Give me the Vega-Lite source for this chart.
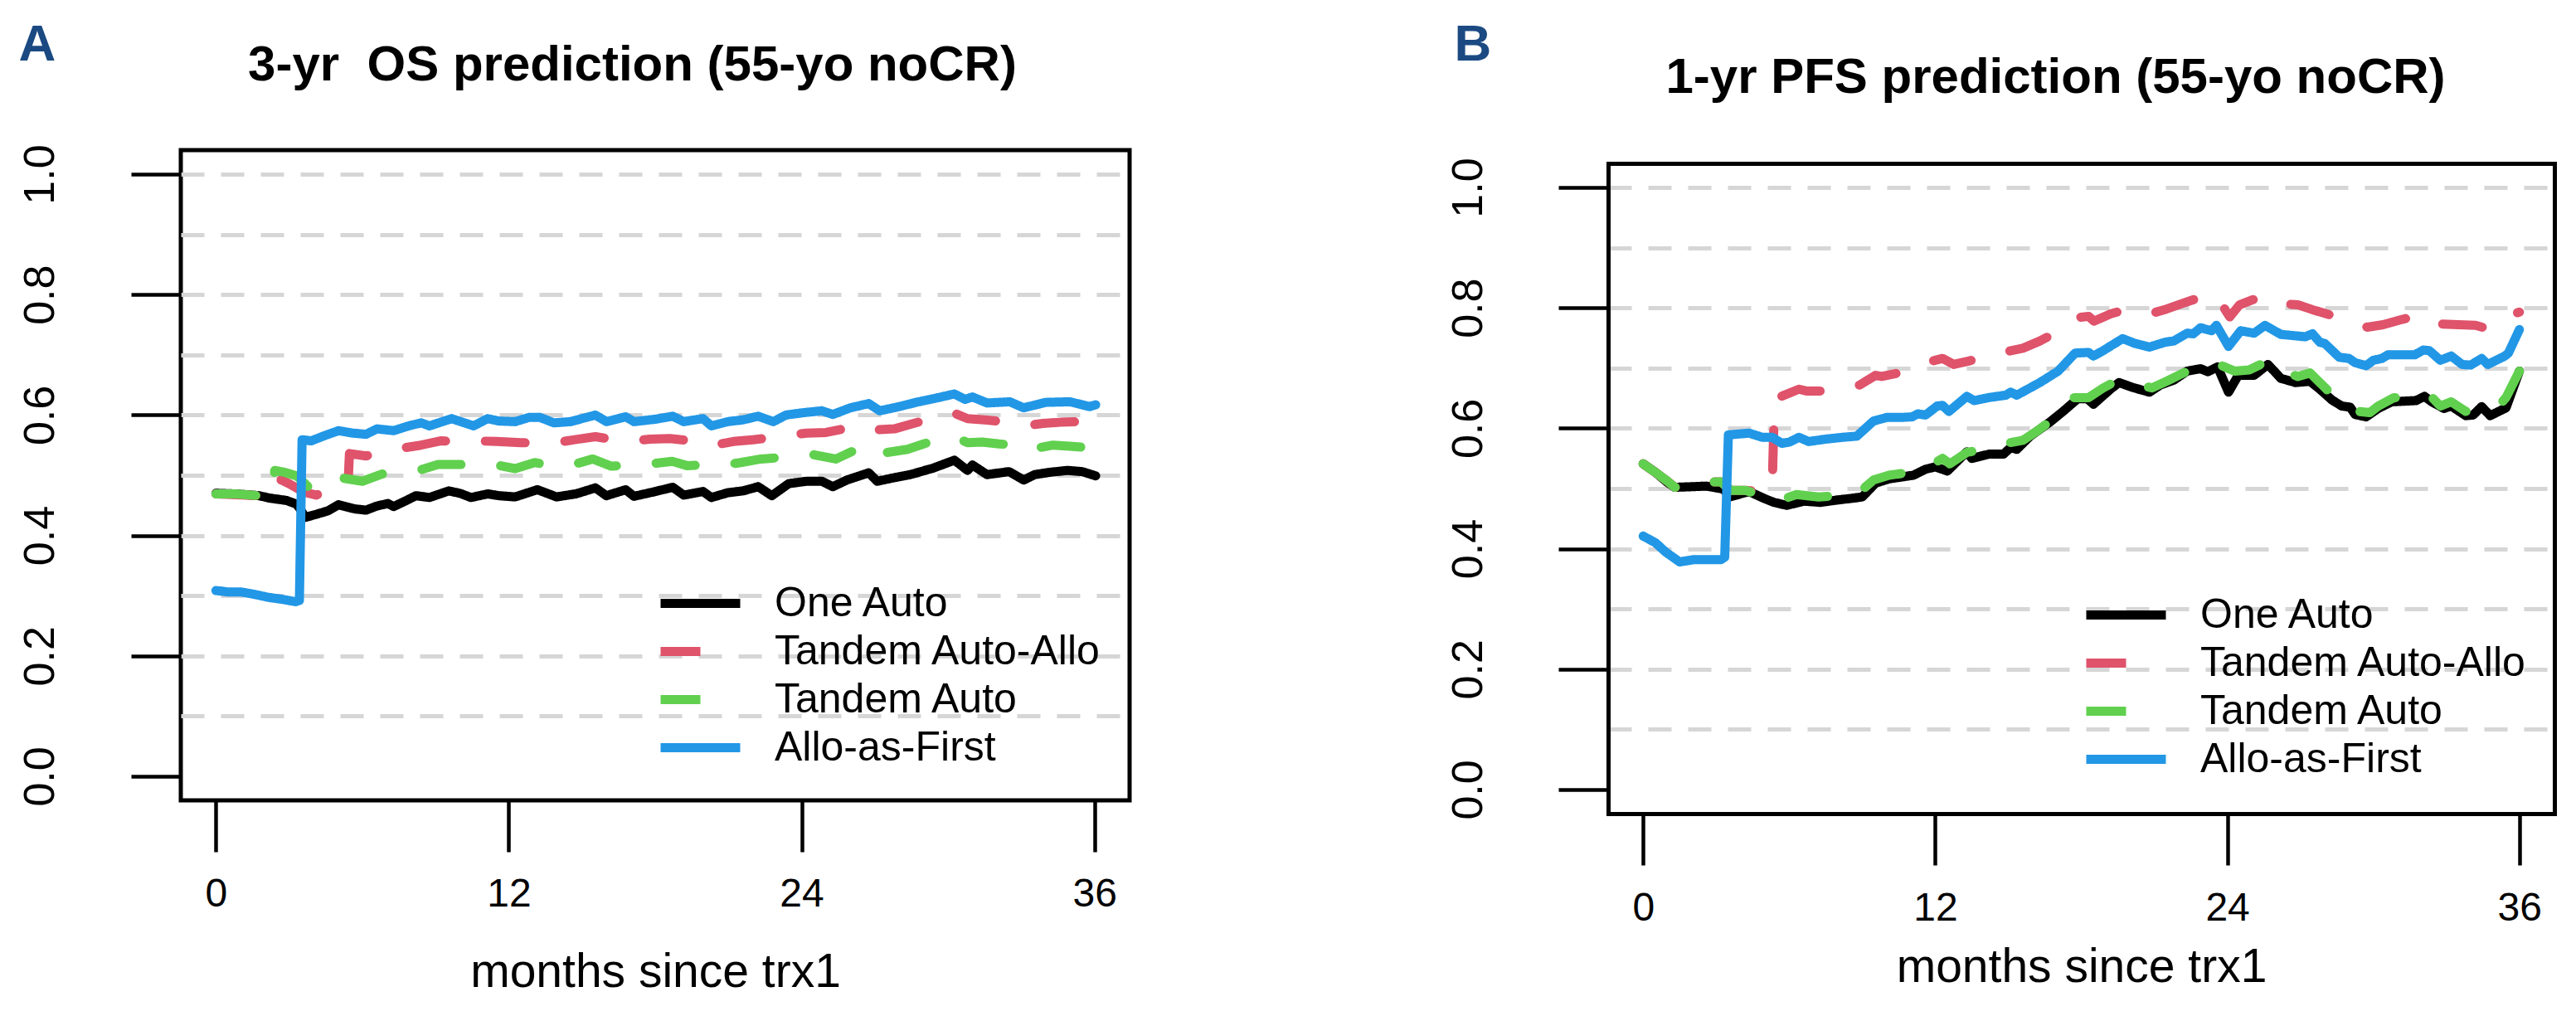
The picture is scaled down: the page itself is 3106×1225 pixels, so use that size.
{
"$schema": "https://vega.github.io/schema/vega-lite/v6.json",
"background": "white",
"padding": {"left": 19, "top": 19, "right": 5, "bottom": 5},
"spacing": 378,
"config": {
  "font": "Liberation Sans",
  "view": {"stroke": null},
  "axis": {"labelFont": "Liberation Sans", "titleFont": "Liberation Sans", "labelColor": "black", "titleColor": "black", "tickColor": "black", "domainColor": "black", "titleFontWeight": "normal"},
  "legend": {"labelFont": "Liberation Sans", "labelColor": "black"},
  "line": {"strokeCap": "round", "strokeJoin": "round"}
},
"datasets": {
"os": [
{"arm":"One Auto","month":0,"prob":0.470},{"arm":"One Auto","month":0.8,"prob":0.469},{"arm":"One Auto","month":1.77,"prob":0.466},{"arm":"One Auto","month":2.2,"prob":0.462},{"arm":"One Auto","month":2.9,"prob":0.458},{"arm":"One Auto","month":3.3,"prob":0.452},{"arm":"One Auto","month":3.45,"prob":0.444},{"arm":"One Auto","month":3.66,"prob":0.430},{"arm":"One Auto","month":4.1,"prob":0.435},{"arm":"One Auto","month":4.6,"prob":0.441},{"arm":"One Auto","month":5.02,"prob":0.451},{"arm":"One Auto","month":5.7,"prob":0.444},{"arm":"One Auto","month":6.15,"prob":0.442},{"arm":"One Auto","month":6.6,"prob":0.449},{"arm":"One Auto","month":7.05,"prob":0.453},{"arm":"One Auto","month":7.28,"prob":0.448},{"arm":"One Auto","month":7.8,"prob":0.458},{"arm":"One Auto","month":8.19,"prob":0.466},{"arm":"One Auto","month":8.75,"prob":0.463},{"arm":"One Auto","month":9.54,"prob":0.474},{"arm":"One Auto","month":10.0,"prob":0.470},{"arm":"One Auto","month":10.45,"prob":0.463},{"arm":"One Auto","month":11.13,"prob":0.469},{"arm":"One Auto","month":11.6,"prob":0.466},{"arm":"One Auto","month":12.26,"prob":0.464},{"arm":"One Auto","month":13.17,"prob":0.476},{"arm":"One Auto","month":13.96,"prob":0.464},{"arm":"One Auto","month":14.75,"prob":0.469},{"arm":"One Auto","month":15.55,"prob":0.479},{"arm":"One Auto","month":16.0,"prob":0.466},{"arm":"One Auto","month":16.79,"prob":0.476},{"arm":"One Auto","month":17.13,"prob":0.465},{"arm":"One Auto","month":17.9,"prob":0.472},{"arm":"One Auto","month":18.72,"prob":0.480},{"arm":"One Auto","month":19.17,"prob":0.467},{"arm":"One Auto","month":19.96,"prob":0.473},{"arm":"One Auto","month":20.3,"prob":0.463},{"arm":"One Auto","month":20.98,"prob":0.471},{"arm":"One Auto","month":21.6,"prob":0.474},{"arm":"One Auto","month":22.22,"prob":0.481},{"arm":"One Auto","month":22.78,"prob":0.466},{"arm":"One Auto","month":23.47,"prob":0.486},{"arm":"One Auto","month":24.2,"prob":0.490},{"arm":"One Auto","month":24.83,"prob":0.490},{"arm":"One Auto","month":25.28,"prob":0.481},{"arm":"One Auto","month":25.85,"prob":0.492},{"arm":"One Auto","month":26.75,"prob":0.504},{"arm":"One Auto","month":27.1,"prob":0.490},{"arm":"One Auto","month":27.8,"prob":0.496},{"arm":"One Auto","month":28.45,"prob":0.501},{"arm":"One Auto","month":29.4,"prob":0.512},{"arm":"One Auto","month":30.26,"prob":0.525},{"arm":"One Auto","month":30.8,"prob":0.508},{"arm":"One Auto","month":31.0,"prob":0.517},{"arm":"One Auto","month":31.6,"prob":0.501},{"arm":"One Auto","month":32.5,"prob":0.506},{"arm":"One Auto","month":33.1,"prob":0.492},{"arm":"One Auto","month":33.55,"prob":0.501},{"arm":"One Auto","month":34.2,"prob":0.505},{"arm":"One Auto","month":34.9,"prob":0.508},{"arm":"One Auto","month":35.5,"prob":0.506},{"arm":"One Auto","month":36.05,"prob":0.499},
{"arm":"Tandem Auto-Allo","month":0,"prob":0.469},{"arm":"Tandem Auto-Allo","month":1.77,"prob":0.466},{"arm":"Tandem Auto-Allo","month":2.3,"prob":0.466},{"arm":"Tandem Auto-Allo","month":2.45,"prob":0.495},{"arm":"Tandem Auto-Allo","month":2.69,"prob":0.492},{"arm":"Tandem Auto-Allo","month":3.0,"prob":0.486},{"arm":"Tandem Auto-Allo","month":3.43,"prob":0.476},{"arm":"Tandem Auto-Allo","month":3.8,"prob":0.470},{"arm":"Tandem Auto-Allo","month":4.1,"prob":0.467},{"arm":"Tandem Auto-Allo","month":5.0,"prob":0.480},{"arm":"Tandem Auto-Allo","month":5.42,"prob":0.490},{"arm":"Tandem Auto-Allo","month":5.47,"prob":0.536},{"arm":"Tandem Auto-Allo","month":6.15,"prob":0.532},{"arm":"Tandem Auto-Allo","month":6.9,"prob":0.540},{"arm":"Tandem Auto-Allo","month":7.62,"prob":0.545},{"arm":"Tandem Auto-Allo","month":8.4,"prob":0.550},{"arm":"Tandem Auto-Allo","month":9.2,"prob":0.557},{"arm":"Tandem Auto-Allo","month":10.0,"prob":0.556},{"arm":"Tandem Auto-Allo","month":10.79,"prob":0.557},{"arm":"Tandem Auto-Allo","month":11.5,"prob":0.556},{"arm":"Tandem Auto-Allo","month":12.5,"prob":0.554},{"arm":"Tandem Auto-Allo","month":13.9,"prob":0.554},{"arm":"Tandem Auto-Allo","month":14.7,"prob":0.559},{"arm":"Tandem Auto-Allo","month":15.55,"prob":0.564},{"arm":"Tandem Auto-Allo","month":16.3,"prob":0.559},{"arm":"Tandem Auto-Allo","month":17.0,"prob":0.557},{"arm":"Tandem Auto-Allo","month":17.8,"prob":0.560},{"arm":"Tandem Auto-Allo","month":18.6,"prob":0.561},{"arm":"Tandem Auto-Allo","month":19.3,"prob":0.558},{"arm":"Tandem Auto-Allo","month":20.07,"prob":0.557},{"arm":"Tandem Auto-Allo","month":20.4,"prob":0.550},{"arm":"Tandem Auto-Allo","month":21.2,"prob":0.556},{"arm":"Tandem Auto-Allo","month":22.0,"prob":0.559},{"arm":"Tandem Auto-Allo","month":22.7,"prob":0.562},{"arm":"Tandem Auto-Allo","month":23.35,"prob":0.566},{"arm":"Tandem Auto-Allo","month":24.2,"prob":0.570},{"arm":"Tandem Auto-Allo","month":25.0,"prob":0.571},{"arm":"Tandem Auto-Allo","month":25.6,"prob":0.576},{"arm":"Tandem Auto-Allo","month":26.2,"prob":0.582},{"arm":"Tandem Auto-Allo","month":26.9,"prob":0.575},{"arm":"Tandem Auto-Allo","month":27.8,"prob":0.577},{"arm":"Tandem Auto-Allo","month":28.5,"prob":0.585},{"arm":"Tandem Auto-Allo","month":29.3,"prob":0.594},{"arm":"Tandem Auto-Allo","month":30.26,"prob":0.603},{"arm":"Tandem Auto-Allo","month":30.8,"prob":0.594},{"arm":"Tandem Auto-Allo","month":31.5,"prob":0.592},{"arm":"Tandem Auto-Allo","month":32.3,"prob":0.589},{"arm":"Tandem Auto-Allo","month":33.1,"prob":0.582},{"arm":"Tandem Auto-Allo","month":33.9,"prob":0.586},{"arm":"Tandem Auto-Allo","month":34.6,"prob":0.588},{"arm":"Tandem Auto-Allo","month":35.3,"prob":0.589},{"arm":"Tandem Auto-Allo","month":36.05,"prob":0.584},
{"arm":"Tandem Auto","month":0,"prob":0.469},{"arm":"Tandem Auto","month":0.8,"prob":0.469},{"arm":"Tandem Auto","month":1.77,"prob":0.466},{"arm":"Tandem Auto","month":2.3,"prob":0.466},{"arm":"Tandem Auto","month":2.41,"prob":0.508},{"arm":"Tandem Auto","month":2.8,"prob":0.505},{"arm":"Tandem Auto","month":3.3,"prob":0.499},{"arm":"Tandem Auto","month":3.6,"prob":0.488},{"arm":"Tandem Auto","month":3.9,"prob":0.476},{"arm":"Tandem Auto","month":4.4,"prob":0.482},{"arm":"Tandem Auto","month":5.24,"prob":0.495},{"arm":"Tandem Auto","month":6.0,"prob":0.490},{"arm":"Tandem Auto","month":6.8,"prob":0.502},{"arm":"Tandem Auto","month":7.5,"prob":0.505},{"arm":"Tandem Auto","month":8.3,"prob":0.508},{"arm":"Tandem Auto","month":9.1,"prob":0.518},{"arm":"Tandem Auto","month":10.0,"prob":0.518},{"arm":"Tandem Auto","month":10.7,"prob":0.516},{"arm":"Tandem Auto","month":11.5,"prob":0.517},{"arm":"Tandem Auto","month":12.26,"prob":0.511},{"arm":"Tandem Auto","month":13.06,"prob":0.521},{"arm":"Tandem Auto","month":13.8,"prob":0.516},{"arm":"Tandem Auto","month":14.5,"prob":0.516},{"arm":"Tandem Auto","month":15.44,"prob":0.527},{"arm":"Tandem Auto","month":16.2,"prob":0.515},{"arm":"Tandem Auto","month":17.0,"prob":0.517},{"arm":"Tandem Auto","month":17.6,"prob":0.518},{"arm":"Tandem Auto","month":18.7,"prob":0.523},{"arm":"Tandem Auto","month":19.3,"prob":0.516},{"arm":"Tandem Auto","month":20.0,"prob":0.517},{"arm":"Tandem Auto","month":20.6,"prob":0.516},{"arm":"Tandem Auto","month":21.5,"prob":0.521},{"arm":"Tandem Auto","month":22.33,"prob":0.527},{"arm":"Tandem Auto","month":23.0,"prob":0.529},{"arm":"Tandem Auto","month":23.7,"prob":0.531},{"arm":"Tandem Auto","month":24.5,"prob":0.534},{"arm":"Tandem Auto","month":25.4,"prob":0.527},{"arm":"Tandem Auto","month":26.1,"prob":0.540},{"arm":"Tandem Auto","month":26.75,"prob":0.550},{"arm":"Tandem Auto","month":27.2,"prob":0.536},{"arm":"Tandem Auto","month":28.34,"prob":0.543},{"arm":"Tandem Auto","month":29.0,"prob":0.552},{"arm":"Tandem Auto","month":29.7,"prob":0.561},{"arm":"Tandem Auto","month":30.26,"prob":0.564},{"arm":"Tandem Auto","month":30.8,"prob":0.554},{"arm":"Tandem Auto","month":31.4,"prob":0.555},{"arm":"Tandem Auto","month":32.1,"prob":0.552},{"arm":"Tandem Auto","month":32.75,"prob":0.550},{"arm":"Tandem Auto","month":33.1,"prob":0.541},{"arm":"Tandem Auto","month":34.3,"prob":0.550},{"arm":"Tandem Auto","month":35.1,"prob":0.548},{"arm":"Tandem Auto","month":35.95,"prob":0.545},
{"arm":"Allo-as-First","month":0,"prob":0.3085},{"arm":"Allo-as-First","month":0.5,"prob":0.306},{"arm":"Allo-as-First","month":1.05,"prob":0.306},{"arm":"Allo-as-First","month":1.6,"prob":0.302},{"arm":"Allo-as-First","month":2.17,"prob":0.297},{"arm":"Allo-as-First","month":2.7,"prob":0.294},{"arm":"Allo-as-First","month":3.26,"prob":0.290},{"arm":"Allo-as-First","month":3.42,"prob":0.292},{"arm":"Allo-as-First","month":3.53,"prob":0.559},{"arm":"Allo-as-First","month":3.9,"prob":0.557},{"arm":"Allo-as-First","month":4.4,"prob":0.565},{"arm":"Allo-as-First","month":5.02,"prob":0.574},{"arm":"Allo-as-First","month":5.6,"prob":0.570},{"arm":"Allo-as-First","month":6.15,"prob":0.568},{"arm":"Allo-as-First","month":6.6,"prob":0.577},{"arm":"Allo-as-First","month":7.28,"prob":0.574},{"arm":"Allo-as-First","month":7.9,"prob":0.582},{"arm":"Allo-as-First","month":8.41,"prob":0.587},{"arm":"Allo-as-First","month":8.75,"prob":0.582},{"arm":"Allo-as-First","month":9.66,"prob":0.594},{"arm":"Allo-as-First","month":10.56,"prob":0.582},{"arm":"Allo-as-First","month":11.13,"prob":0.594},{"arm":"Allo-as-First","month":11.6,"prob":0.590},{"arm":"Allo-as-First","month":12.26,"prob":0.589},{"arm":"Allo-as-First","month":12.83,"prob":0.596},{"arm":"Allo-as-First","month":13.28,"prob":0.596},{"arm":"Allo-as-First","month":13.85,"prob":0.587},{"arm":"Allo-as-First","month":14.53,"prob":0.589},{"arm":"Allo-as-First","month":15.55,"prob":0.600},{"arm":"Allo-as-First","month":16.0,"prob":0.589},{"arm":"Allo-as-First","month":16.79,"prob":0.597},{"arm":"Allo-as-First","month":17.13,"prob":0.589},{"arm":"Allo-as-First","month":18.0,"prob":0.593},{"arm":"Allo-as-First","month":18.72,"prob":0.598},{"arm":"Allo-as-First","month":19.17,"prob":0.589},{"arm":"Allo-as-First","month":19.96,"prob":0.594},{"arm":"Allo-as-First","month":20.3,"prob":0.582},{"arm":"Allo-as-First","month":20.98,"prob":0.589},{"arm":"Allo-as-First","month":21.6,"prob":0.592},{"arm":"Allo-as-First","month":22.22,"prob":0.598},{"arm":"Allo-as-First","month":22.84,"prob":0.589},{"arm":"Allo-as-First","month":23.36,"prob":0.600},{"arm":"Allo-as-First","month":24.1,"prob":0.604},{"arm":"Allo-as-First","month":24.83,"prob":0.607},{"arm":"Allo-as-First","month":25.28,"prob":0.601},{"arm":"Allo-as-First","month":26.0,"prob":0.612},{"arm":"Allo-as-First","month":26.75,"prob":0.619},{"arm":"Allo-as-First","month":27.2,"prob":0.607},{"arm":"Allo-as-First","month":28.0,"prob":0.614},{"arm":"Allo-as-First","month":28.68,"prob":0.621},{"arm":"Allo-as-First","month":29.5,"prob":0.628},{"arm":"Allo-as-First","month":30.26,"prob":0.635},{"arm":"Allo-as-First","month":30.7,"prob":0.626},{"arm":"Allo-as-First","month":31.0,"prob":0.630},{"arm":"Allo-as-First","month":31.6,"prob":0.620},{"arm":"Allo-as-First","month":32.53,"prob":0.622},{"arm":"Allo-as-First","month":33.1,"prob":0.612},{"arm":"Allo-as-First","month":34.0,"prob":0.621},{"arm":"Allo-as-First","month":35.0,"prob":0.622},{"arm":"Allo-as-First","month":35.8,"prob":0.614},{"arm":"Allo-as-First","month":36.05,"prob":0.617}
],
"pfs": [
{"arm":"One Auto","month":0,"prob":0.541},{"arm":"One Auto","month":0.5,"prob":0.527},{"arm":"One Auto","month":1.0,"prob":0.510},{"arm":"One Auto","month":1.3,"prob":0.502},{"arm":"One Auto","month":2.0,"prob":0.503},{"arm":"One Auto","month":2.6,"prob":0.504},{"arm":"One Auto","month":3.3,"prob":0.499},{"arm":"One Auto","month":3.55,"prob":0.486},{"arm":"One Auto","month":4.35,"prob":0.495},{"arm":"One Auto","month":5.0,"prob":0.483},{"arm":"One Auto","month":5.37,"prob":0.477},{"arm":"One Auto","month":5.9,"prob":0.472},{"arm":"One Auto","month":6.6,"prob":0.479},{"arm":"One Auto","month":7.28,"prob":0.477},{"arm":"One Auto","month":8.0,"prob":0.481},{"arm":"One Auto","month":8.64,"prob":0.484},{"arm":"One Auto","month":9.0,"prob":0.486},{"arm":"One Auto","month":9.55,"prob":0.509},{"arm":"One Auto","month":10.1,"prob":0.516},{"arm":"One Auto","month":11.1,"prob":0.522},{"arm":"One Auto","month":11.6,"prob":0.532},{"arm":"One Auto","month":12.0,"prob":0.536},{"arm":"One Auto","month":12.5,"prob":0.529},{"arm":"One Auto","month":13.3,"prob":0.561},{"arm":"One Auto","month":13.5,"prob":0.550},{"arm":"One Auto","month":14.2,"prob":0.557},{"arm":"One Auto","month":14.8,"prob":0.557},{"arm":"One Auto","month":15.1,"prob":0.568},{"arm":"One Auto","month":15.35,"prob":0.565},{"arm":"One Auto","month":15.9,"prob":0.587},{"arm":"One Auto","month":16.7,"prob":0.610},{"arm":"One Auto","month":17.25,"prob":0.628},{"arm":"One Auto","month":17.85,"prob":0.649},{"arm":"One Auto","month":18.25,"prob":0.649},{"arm":"One Auto","month":18.5,"prob":0.640},{"arm":"One Auto","month":19.2,"prob":0.665},{"arm":"One Auto","month":19.55,"prob":0.676},{"arm":"One Auto","month":20.1,"prob":0.668},{"arm":"One Auto","month":20.8,"prob":0.660},{"arm":"One Auto","month":21.25,"prob":0.672},{"arm":"One Auto","month":21.8,"prob":0.680},{"arm":"One Auto","month":22.35,"prob":0.695},{"arm":"One Auto","month":22.9,"prob":0.699},{"arm":"One Auto","month":23.2,"prob":0.694},{"arm":"One Auto","month":23.6,"prob":0.702},{"arm":"One Auto","month":24.05,"prob":0.660},{"arm":"One Auto","month":24.45,"prob":0.688},{"arm":"One Auto","month":25.1,"prob":0.688},{"arm":"One Auto","month":25.67,"prob":0.706},{"arm":"One Auto","month":26.2,"prob":0.683},{"arm":"One Auto","month":26.8,"prob":0.676},{"arm":"One Auto","month":27.4,"prob":0.678},{"arm":"One Auto","month":27.8,"prob":0.665},{"arm":"One Auto","month":28.3,"prob":0.647},{"arm":"One Auto","month":28.7,"prob":0.637},{"arm":"One Auto","month":29.05,"prob":0.635},{"arm":"One Auto","month":29.25,"prob":0.623},{"arm":"One Auto","month":29.7,"prob":0.619},{"arm":"One Auto","month":30.2,"prob":0.633},{"arm":"One Auto","month":30.75,"prob":0.644},{"arm":"One Auto","month":31.75,"prob":0.646},{"arm":"One Auto","month":32.1,"prob":0.653},{"arm":"One Auto","month":32.4,"prob":0.644},{"arm":"One Auto","month":32.9,"prob":0.633},{"arm":"One Auto","month":33.2,"prob":0.637},{"arm":"One Auto","month":33.8,"prob":0.621},{"arm":"One Auto","month":34.1,"prob":0.622},{"arm":"One Auto","month":34.45,"prob":0.636},{"arm":"One Auto","month":34.8,"prob":0.621},{"arm":"One Auto","month":35.45,"prob":0.634},{"arm":"One Auto","month":36.0,"prob":0.695},
{"arm":"Tandem Auto-Allo","month":0,"prob":0.541},{"arm":"Tandem Auto-Allo","month":0.5,"prob":0.527},{"arm":"Tandem Auto-Allo","month":1.0,"prob":0.512},{"arm":"Tandem Auto-Allo","month":1.3,"prob":0.502},{"arm":"Tandem Auto-Allo","month":2.0,"prob":0.503},{"arm":"Tandem Auto-Allo","month":2.65,"prob":0.511},{"arm":"Tandem Auto-Allo","month":3.2,"prob":0.511},{"arm":"Tandem Auto-Allo","month":3.6,"prob":0.497},{"arm":"Tandem Auto-Allo","month":4.2,"prob":0.497},{"arm":"Tandem Auto-Allo","month":4.9,"prob":0.495},{"arm":"Tandem Auto-Allo","month":5.3,"prob":0.502},{"arm":"Tandem Auto-Allo","month":5.4,"prob":0.651},{"arm":"Tandem Auto-Allo","month":5.55,"prob":0.651},{"arm":"Tandem Auto-Allo","month":6.4,"prob":0.665},{"arm":"Tandem Auto-Allo","month":6.7,"prob":0.662},{"arm":"Tandem Auto-Allo","month":7.4,"prob":0.662},{"arm":"Tandem Auto-Allo","month":8.2,"prob":0.665},{"arm":"Tandem Auto-Allo","month":8.9,"prob":0.672},{"arm":"Tandem Auto-Allo","month":9.55,"prob":0.688},{"arm":"Tandem Auto-Allo","month":9.8,"prob":0.686},{"arm":"Tandem Auto-Allo","month":10.5,"prob":0.692},{"arm":"Tandem Auto-Allo","month":11.1,"prob":0.699},{"arm":"Tandem Auto-Allo","month":11.8,"prob":0.711},{"arm":"Tandem Auto-Allo","month":12.3,"prob":0.716},{"arm":"Tandem Auto-Allo","month":12.76,"prob":0.706},{"arm":"Tandem Auto-Allo","month":13.4,"prob":0.712},{"arm":"Tandem Auto-Allo","month":14.1,"prob":0.720},{"arm":"Tandem Auto-Allo","month":14.9,"prob":0.727},{"arm":"Tandem Auto-Allo","month":15.6,"prob":0.733},{"arm":"Tandem Auto-Allo","month":16.3,"prob":0.745},{"arm":"Tandem Auto-Allo","month":17.05,"prob":0.761},{"arm":"Tandem Auto-Allo","month":17.85,"prob":0.784},{"arm":"Tandem Auto-Allo","month":18.3,"prob":0.786},{"arm":"Tandem Auto-Allo","month":18.52,"prob":0.778},{"arm":"Tandem Auto-Allo","month":19.2,"prob":0.790},{"arm":"Tandem Auto-Allo","month":19.9,"prob":0.798},{"arm":"Tandem Auto-Allo","month":20.9,"prob":0.791},{"arm":"Tandem Auto-Allo","month":21.5,"prob":0.798},{"arm":"Tandem Auto-Allo","month":22.2,"prob":0.808},{"arm":"Tandem Auto-Allo","month":22.85,"prob":0.817},{"arm":"Tandem Auto-Allo","month":23.5,"prob":0.823},{"arm":"Tandem Auto-Allo","month":24.1,"prob":0.785},{"arm":"Tandem Auto-Allo","month":24.5,"prob":0.805},{"arm":"Tandem Auto-Allo","month":25.0,"prob":0.813},{"arm":"Tandem Auto-Allo","month":25.33,"prob":0.817},{"arm":"Tandem Auto-Allo","month":25.67,"prob":0.819},{"arm":"Tandem Auto-Allo","month":26.2,"prob":0.807},{"arm":"Tandem Auto-Allo","month":26.9,"prob":0.805},{"arm":"Tandem Auto-Allo","month":27.5,"prob":0.797},{"arm":"Tandem Auto-Allo","month":28.17,"prob":0.789},{"arm":"Tandem Auto-Allo","month":28.85,"prob":0.778},{"arm":"Tandem Auto-Allo","month":29.75,"prob":0.768},{"arm":"Tandem Auto-Allo","month":30.4,"prob":0.772},{"arm":"Tandem Auto-Allo","month":31.1,"prob":0.780},{"arm":"Tandem Auto-Allo","month":32.0,"prob":0.789},{"arm":"Tandem Auto-Allo","month":32.8,"prob":0.773},{"arm":"Tandem Auto-Allo","month":33.5,"prob":0.772},{"arm":"Tandem Auto-Allo","month":34.2,"prob":0.771},{"arm":"Tandem Auto-Allo","month":34.65,"prob":0.766},{"arm":"Tandem Auto-Allo","month":35.3,"prob":0.775},{"arm":"Tandem Auto-Allo","month":35.7,"prob":0.789},{"arm":"Tandem Auto-Allo","month":36.0,"prob":0.793},
{"arm":"Tandem Auto","month":0,"prob":0.541},{"arm":"Tandem Auto","month":0.5,"prob":0.527},{"arm":"Tandem Auto","month":1.0,"prob":0.512},{"arm":"Tandem Auto","month":1.3,"prob":0.502},{"arm":"Tandem Auto","month":2.0,"prob":0.503},{"arm":"Tandem Auto","month":2.65,"prob":0.511},{"arm":"Tandem Auto","month":3.2,"prob":0.511},{"arm":"Tandem Auto","month":3.6,"prob":0.497},{"arm":"Tandem Auto","month":4.2,"prob":0.497},{"arm":"Tandem Auto","month":4.9,"prob":0.488},{"arm":"Tandem Auto","month":5.5,"prob":0.479},{"arm":"Tandem Auto","month":6.3,"prob":0.490},{"arm":"Tandem Auto","month":7.2,"prob":0.486},{"arm":"Tandem Auto","month":8.0,"prob":0.488},{"arm":"Tandem Auto","month":8.8,"prob":0.491},{"arm":"Tandem Auto","month":9.46,"prob":0.514},{"arm":"Tandem Auto","month":10.1,"prob":0.522},{"arm":"Tandem Auto","month":10.8,"prob":0.526},{"arm":"Tandem Auto","month":11.45,"prob":0.530},{"arm":"Tandem Auto","month":12.3,"prob":0.550},{"arm":"Tandem Auto","month":12.6,"prob":0.541},{"arm":"Tandem Auto","month":13.3,"prob":0.560},{"arm":"Tandem Auto","month":14.1,"prob":0.566},{"arm":"Tandem Auto","month":14.9,"prob":0.575},{"arm":"Tandem Auto","month":15.6,"prob":0.580},{"arm":"Tandem Auto","month":16.2,"prob":0.596},{"arm":"Tandem Auto","month":16.8,"prob":0.614},{"arm":"Tandem Auto","month":17.25,"prob":0.633},{"arm":"Tandem Auto","month":17.7,"prob":0.651},{"arm":"Tandem Auto","month":18.3,"prob":0.651},{"arm":"Tandem Auto","month":18.9,"prob":0.667},{"arm":"Tandem Auto","month":19.45,"prob":0.679},{"arm":"Tandem Auto","month":20.25,"prob":0.674},{"arm":"Tandem Auto","month":20.9,"prob":0.667},{"arm":"Tandem Auto","month":21.5,"prob":0.678},{"arm":"Tandem Auto","month":22.2,"prob":0.692},{"arm":"Tandem Auto","month":22.9,"prob":0.703},{"arm":"Tandem Auto","month":23.55,"prob":0.708},{"arm":"Tandem Auto","month":24.0,"prob":0.700},{"arm":"Tandem Auto","month":24.3,"prob":0.695},{"arm":"Tandem Auto","month":24.9,"prob":0.697},{"arm":"Tandem Auto","month":25.67,"prob":0.712},{"arm":"Tandem Auto","month":26.3,"prob":0.695},{"arm":"Tandem Auto","month":26.9,"prob":0.686},{"arm":"Tandem Auto","month":27.4,"prob":0.692},{"arm":"Tandem Auto","month":27.9,"prob":0.672},{"arm":"Tandem Auto","month":28.2,"prob":0.660},{"arm":"Tandem Auto","month":28.8,"prob":0.640},{"arm":"Tandem Auto","month":29.4,"prob":0.628},{"arm":"Tandem Auto","month":29.85,"prob":0.626},{"arm":"Tandem Auto","month":30.2,"prob":0.637},{"arm":"Tandem Auto","month":30.85,"prob":0.651},{"arm":"Tandem Auto","month":31.6,"prob":0.650},{"arm":"Tandem Auto","month":32.3,"prob":0.656},{"arm":"Tandem Auto","month":32.75,"prob":0.637},{"arm":"Tandem Auto","month":33.2,"prob":0.644},{"arm":"Tandem Auto","month":33.8,"prob":0.628},{"arm":"Tandem Auto","month":34.4,"prob":0.630},{"arm":"Tandem Auto","month":35.1,"prob":0.635},{"arm":"Tandem Auto","month":35.45,"prob":0.651},{"arm":"Tandem Auto","month":36.0,"prob":0.695},
{"arm":"Allo-as-First","month":0,"prob":0.421},{"arm":"Allo-as-First","month":0.5,"prob":0.410},{"arm":"Allo-as-First","month":0.94,"prob":0.394},{"arm":"Allo-as-First","month":1.5,"prob":0.378},{"arm":"Allo-as-First","month":2.1,"prob":0.382},{"arm":"Allo-as-First","month":2.7,"prob":0.382},{"arm":"Allo-as-First","month":3.2,"prob":0.382},{"arm":"Allo-as-First","month":3.35,"prob":0.386},{"arm":"Allo-as-First","month":3.5,"prob":0.589},{"arm":"Allo-as-First","month":4.35,"prob":0.592},{"arm":"Allo-as-First","month":4.9,"prob":0.585},{"arm":"Allo-as-First","month":5.3,"prob":0.585},{"arm":"Allo-as-First","month":5.7,"prob":0.575},{"arm":"Allo-as-First","month":6.0,"prob":0.577},{"arm":"Allo-as-First","month":6.4,"prob":0.585},{"arm":"Allo-as-First","month":6.8,"prob":0.578},{"arm":"Allo-as-First","month":7.5,"prob":0.582},{"arm":"Allo-as-First","month":8.2,"prob":0.585},{"arm":"Allo-as-First","month":8.78,"prob":0.587},{"arm":"Allo-as-First","month":9.46,"prob":0.612},{"arm":"Allo-as-First","month":10.0,"prob":0.618},{"arm":"Allo-as-First","month":10.6,"prob":0.618},{"arm":"Allo-as-First","month":11.05,"prob":0.619},{"arm":"Allo-as-First","month":11.28,"prob":0.624},{"arm":"Allo-as-First","month":11.6,"prob":0.622},{"arm":"Allo-as-First","month":12.08,"prob":0.637},{"arm":"Allo-as-First","month":12.3,"prob":0.638},{"arm":"Allo-as-First","month":12.56,"prob":0.628},{"arm":"Allo-as-First","month":13.3,"prob":0.653},{"arm":"Allo-as-First","month":13.6,"prob":0.646},{"arm":"Allo-as-First","month":14.2,"prob":0.651},{"arm":"Allo-as-First","month":14.9,"prob":0.655},{"arm":"Allo-as-First","month":15.1,"prob":0.660},{"arm":"Allo-as-First","month":15.35,"prob":0.655},{"arm":"Allo-as-First","month":16.3,"prob":0.676},{"arm":"Allo-as-First","month":17.05,"prob":0.695},{"arm":"Allo-as-First","month":17.75,"prob":0.725},{"arm":"Allo-as-First","month":18.3,"prob":0.726},{"arm":"Allo-as-First","month":18.5,"prob":0.720},{"arm":"Allo-as-First","month":18.9,"prob":0.729},{"arm":"Allo-as-First","month":19.7,"prob":0.749},{"arm":"Allo-as-First","month":20.2,"prob":0.741},{"arm":"Allo-as-First","month":20.8,"prob":0.735},{"arm":"Allo-as-First","month":21.45,"prob":0.743},{"arm":"Allo-as-First","month":21.8,"prob":0.745},{"arm":"Allo-as-First","month":22.35,"prob":0.758},{"arm":"Allo-as-First","month":22.6,"prob":0.757},{"arm":"Allo-as-First","month":22.9,"prob":0.767},{"arm":"Allo-as-First","month":23.35,"prob":0.762},{"arm":"Allo-as-First","month":23.55,"prob":0.771},{"arm":"Allo-as-First","month":24.05,"prob":0.736},{"arm":"Allo-as-First","month":24.55,"prob":0.762},{"arm":"Allo-as-First","month":25.1,"prob":0.758},{"arm":"Allo-as-First","month":25.55,"prob":0.771},{"arm":"Allo-as-First","month":26.2,"prob":0.756},{"arm":"Allo-as-First","month":27.2,"prob":0.752},{"arm":"Allo-as-First","month":27.5,"prob":0.757},{"arm":"Allo-as-First","month":27.8,"prob":0.743},{"arm":"Allo-as-First","month":28.0,"prob":0.741},{"arm":"Allo-as-First","month":28.6,"prob":0.718},{"arm":"Allo-as-First","month":29.0,"prob":0.716},{"arm":"Allo-as-First","month":29.25,"prob":0.709},{"arm":"Allo-as-First","month":29.7,"prob":0.704},{"arm":"Allo-as-First","month":30.0,"prob":0.713},{"arm":"Allo-as-First","month":30.35,"prob":0.716},{"arm":"Allo-as-First","month":30.6,"prob":0.722},{"arm":"Allo-as-First","month":31.7,"prob":0.722},{"arm":"Allo-as-First","month":32.05,"prob":0.730},{"arm":"Allo-as-First","month":32.3,"prob":0.729},{"arm":"Allo-as-First","month":32.75,"prob":0.713},{"arm":"Allo-as-First","month":33.2,"prob":0.720},{"arm":"Allo-as-First","month":33.65,"prob":0.706},{"arm":"Allo-as-First","month":34.0,"prob":0.705},{"arm":"Allo-as-First","month":34.45,"prob":0.716},{"arm":"Allo-as-First","month":34.7,"prob":0.706},{"arm":"Allo-as-First","month":35.4,"prob":0.720},{"arm":"Allo-as-First","month":35.55,"prob":0.725},{"arm":"Allo-as-First","month":36.0,"prob":0.764}
]
},
"resolve": {"scale": {"x": "independent", "y": "independent", "color": "independent", "strokeDash": "independent", "strokeWidth": "independent"}, "legend": {"color": "independent", "strokeDash": "independent"}},
"hconcat": [
{
  "width": 1144, "height": 784,
  "view": {"stroke": "black", "strokeWidth": 5},
  "data": {"name": "os"},
  "resolve": {"axis": {"x": "independent", "y": "independent"}},
  "layer": [
  {
    "mark": {"type": "line"},
    "encoding": {
      "x": {"field": "month", "type": "quantitative", "scale": {"domain": [-1.44, 37.44], "nice": false, "zero": false},
        "axis": {"values": [0, 12, 24, 36], "title": "months since trx1", "titleFontSize": 57, "titleBaseline": "alphabetic", "titleY": 224, "labelFontSize": 48, "labelBaseline": "alphabetic", "labelPadding": 65, "tickSize": 62, "tickWidth": 4.5, "domain": false, "grid": false, "labelFlush": false, "labelOverlap": false}},
      "y": {"field": "prob", "type": "quantitative", "scale": {"domain": [-0.04, 1.04], "nice": false, "zero": false},
        "axis": {"values": [0, 0.1, 0.2, 0.3, 0.4, 0.5, 0.6, 0.7, 0.8, 0.9, 1.0],
          "labelExpr": "round(datum.value*10) % 2 === 0 ? format(datum.value, '.1f') : ''",
          "labelAngle": -90, "labelAlign": "center", "labelBaseline": "alphabetic", "labelFontSize": 52, "labelPadding": 94, "labelOverlap": false, "labelFlush": false,
          "tickSize": 60, "tickWidth": 4.5, "tickOpacity": {"condition": {"test": "round(datum.value*10) % 2 === 1", "value": 0}, "value": 1},
          "grid": true, "gridColor": "#d6d6d6", "gridWidth": 5, "gridDash": [28, 20], "gridOpacity": {"condition": {"test": "datum.value < 0.05", "value": 0}, "value": 1},
          "domain": false,
          "title": "A", "titleAngle": 0, "titleAlign": "left", "titleBaseline": "alphabetic", "titleX": -196, "titleY": -109, "titleFontSize": 62, "titleFontWeight": "bold", "titleColor": "#1B4A82"}},
      "color": {"field": "arm", "type": "nominal", "scale": {"domain": ["One Auto", "Tandem Auto-Allo", "Tandem Auto", "Allo-as-First"], "range": ["#000000", "#DF536B", "#61D04F", "#2297E6"]},
        "legend": {"title": null, "orient": "none", "direction": "vertical", "legendX": 597, "legendY": 517, "padding": 0, "labelFontSize": 50, "labelLimit": 0, "labelOffset": 60, "rowPadding": 3, "symbolType": "M-2,0H2", "symbolSize": 2304, "symbolStrokeWidth": 11}},
      "strokeDash": {"field": "arm", "type": "nominal", "scale": {"domain": ["One Auto", "Tandem Auto-Allo", "Tandem Auto", "Allo-as-First"], "range": [[1, 0], [48, 48], [48, 48], [1, 0]]},
        "legend": {"title": null, "orient": "none", "direction": "vertical", "legendX": 597, "legendY": 517, "padding": 0, "labelFontSize": 50, "labelLimit": 0, "labelOffset": 60, "rowPadding": 3, "symbolType": "M-2,0H2", "symbolSize": 2304, "symbolStrokeWidth": 11}},
      "strokeWidth": {"field": "arm", "type": "nominal", "scale": {"domain": ["One Auto", "Tandem Auto-Allo", "Tandem Auto", "Allo-as-First"], "range": [11, 11, 11, 4]}, "legend": null}
    }
  },
  {
    "mark": {"type": "line", "opacity": 0},
    "encoding": {
      "x": {"field": "month", "type": "quantitative", "axis": {"orient": "top", "domain": false, "ticks": false, "labels": false, "grid": false, "title": "3-yr\u00a0 OS prediction (55-yo noCR)", "titleFontSize": 60, "titleFontWeight": "bold", "titleAlign": "center", "titleBaseline": "alphabetic", "titleX": 544, "titleY": -85}},
      "y": {"field": "prob", "type": "quantitative", "axis": null}
    }
  }
  ]
},
{
  "width": 1141, "height": 800,
  "view": {"stroke": null},
  "data": {"name": "pfs"},
  "resolve": {"axis": {"x": "independent", "y": "independent"}},
  "layer": [
  {
    "mark": {"type": "line"},
    "encoding": {
      "x": {"field": "month", "type": "quantitative", "scale": {"domain": [-1.44, 37.44], "nice": false, "zero": false},
        "axis": {"values": [0, 12, 24, 36], "title": "months since trx1", "titleFontSize": 57, "titleBaseline": "alphabetic", "titleY": 202, "labelFontSize": 48, "labelBaseline": "alphabetic", "labelPadding": 66, "tickSize": 62, "tickWidth": 4.5, "domain": true, "domainWidth": 5, "domainCap": "square", "grid": false, "labelFlush": false, "labelOverlap": false}},
      "y": {"field": "prob", "type": "quantitative", "scale": {"domain": [-0.04, 1.04], "range": [800, 16], "nice": false, "zero": false},
        "axis": {"values": [0, 0.1, 0.2, 0.3, 0.4, 0.5, 0.6, 0.7, 0.8, 0.9, 1.0],
          "labelExpr": "round(datum.value*10) % 2 === 0 ? format(datum.value, '.1f') : ''",
          "labelAngle": -90, "labelAlign": "center", "labelBaseline": "alphabetic", "labelFontSize": 52, "labelPadding": 93, "labelOverlap": false, "labelFlush": false,
          "tickSize": 60, "tickWidth": 4.5, "tickOpacity": {"condition": {"test": "round(datum.value*10) % 2 === 1", "value": 0}, "value": 1},
          "grid": true, "gridColor": "#d6d6d6", "gridWidth": 5, "gridDash": [28, 20], "gridOpacity": {"condition": {"test": "datum.value < 0.05", "value": 0}, "value": 1},
          "domain": true, "domainWidth": 5, "domainCap": "square",
          "title": "B", "titleAngle": 0, "titleAlign": "left", "titleBaseline": "alphabetic", "titleX": -186, "titleY": -109, "titleFontSize": 62, "titleFontWeight": "bold", "titleColor": "#1B4A82"}},
      "color": {"field": "arm", "type": "nominal", "scale": {"domain": ["One Auto", "Tandem Auto-Allo", "Tandem Auto", "Allo-as-First"], "range": ["#000000", "#DF536B", "#61D04F", "#2297E6"]},
        "legend": {"title": null, "orient": "none", "direction": "vertical", "legendX": 595, "legendY": 531, "padding": 0, "labelFontSize": 50, "labelLimit": 0, "labelOffset": 60, "rowPadding": 3, "symbolType": "M-2,0H2", "symbolSize": 2304, "symbolStrokeWidth": 11}},
      "strokeDash": {"field": "arm", "type": "nominal", "scale": {"domain": ["One Auto", "Tandem Auto-Allo", "Tandem Auto", "Allo-as-First"], "range": [[1, 0], [48, 48], [48, 48], [1, 0]]},
        "legend": {"title": null, "orient": "none", "direction": "vertical", "legendX": 595, "legendY": 531, "padding": 0, "labelFontSize": 50, "labelLimit": 0, "labelOffset": 60, "rowPadding": 3, "symbolType": "M-2,0H2", "symbolSize": 2304, "symbolStrokeWidth": 11}},
      "strokeWidth": {"field": "arm", "type": "nominal", "scale": {"domain": ["One Auto", "Tandem Auto-Allo", "Tandem Auto", "Allo-as-First"], "range": [11, 11, 11, 4]}, "legend": null}
    }
  },
  {
    "mark": {"type": "line", "opacity": 0},
    "encoding": {
      "x": {"field": "month", "type": "quantitative", "axis": {"orient": "top", "offset": -16, "domain": true, "domainWidth": 5, "domainCap": "square", "ticks": false, "labels": false, "grid": false, "title": "1-yr PFS prediction (55-yo noCR)", "titleFontSize": 60, "titleFontWeight": "bold", "titleAlign": "center", "titleBaseline": "alphabetic", "titleX": 539, "titleY": -86}},
      "y": {"field": "prob", "type": "quantitative", "axis": {"orient": "right", "domain": true, "domainWidth": 5, "domainCap": "square", "ticks": false, "labels": false, "grid": false, "title": null}}
    }
  }
  ]
}
]
}
